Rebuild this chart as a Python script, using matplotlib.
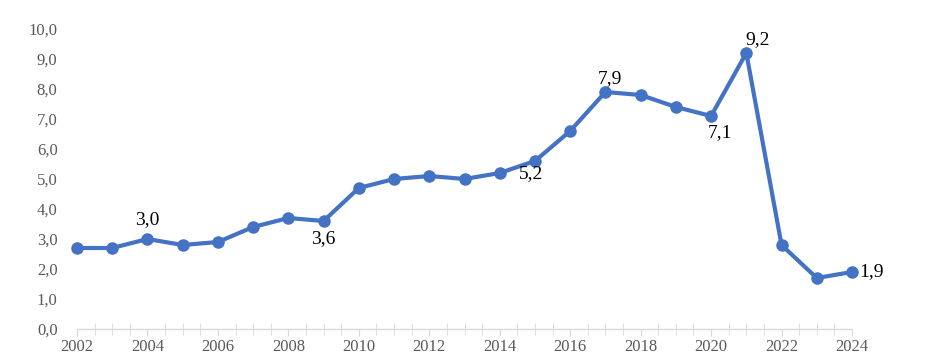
import numpy as np
import matplotlib.pyplot as plt
from matplotlib.ticker import FuncFormatter, MultipleLocator

years = list(range(2002, 2025))
values = [2.7, 2.7, 3.0, 2.8, 2.9, 3.4, 3.7, 3.6, 4.7, 5.0, 5.1, 5.0, 5.2,
          5.6, 6.6, 7.9, 7.8, 7.4, 7.1, 9.2, 2.8, 1.7, 1.9]

# data labels shown on the chart: (year, text, offset in points)
label_years = [2004, 2009, 2015, 2017, 2021, 2020, 2024]
label_texts = ["3,0", "3,6", "5,2", "7,9", "9,2", "7,1", "1,9"]
label_offsets = [(0, 14), (0, -13), (-3, -9), (3.5, 10), (8, 9.5), (6.5, -12), (14, 0)]

plt.rcParams['font.family'] = ['Liberation Serif', 'DejaVu Serif']

fig = plt.figure(figsize=(9.26, 3.62), dpi=100)
ax = fig.add_axes([77 / 926, 1 - 329 / 362, (852 - 77) / 926, 300 / 362])

color = "#4472C4"
ax.plot(years, values, color=color, lw=3, marker="o", markersize=8, zorder=3,
        clip_on=False)

for yr, txt, off in zip(label_years, label_texts, label_offsets):
    v = values[years.index(yr)]
    ax.annotate(txt, (yr, v), xytext=off, textcoords="offset points",
                ha="center", va="center", fontsize=14, color="black")

ax.set_xlim(2002, 2024)
ax.set_ylim(0, 10)
ax.yaxis.set_major_locator(MultipleLocator(1))
ax.yaxis.set_major_formatter(FuncFormatter(lambda v, p: f"{v:.1f}".replace(".", ",")))
ax.xaxis.set_major_locator(MultipleLocator(2))
ax.xaxis.set_minor_locator(MultipleLocator(0.5))

for s in ["top", "right", "left"]:
    ax.spines[s].set_visible(False)
ax.spines["bottom"].set_color("#D9D9D9")
ax.spines["bottom"].set_linewidth(1)

ax.tick_params(axis="y", length=0, labelsize=12, labelcolor="#595959", pad=14)
ax.tick_params(axis="x", which="major", direction="out", length=5, color="#D9D9D9",
               labelsize=12, labelcolor="#595959", pad=2)
ax.tick_params(axis="x", which="minor", direction="inout", length=8, color="#D9D9D9")

fig.savefig("out.png", dpi=100)
